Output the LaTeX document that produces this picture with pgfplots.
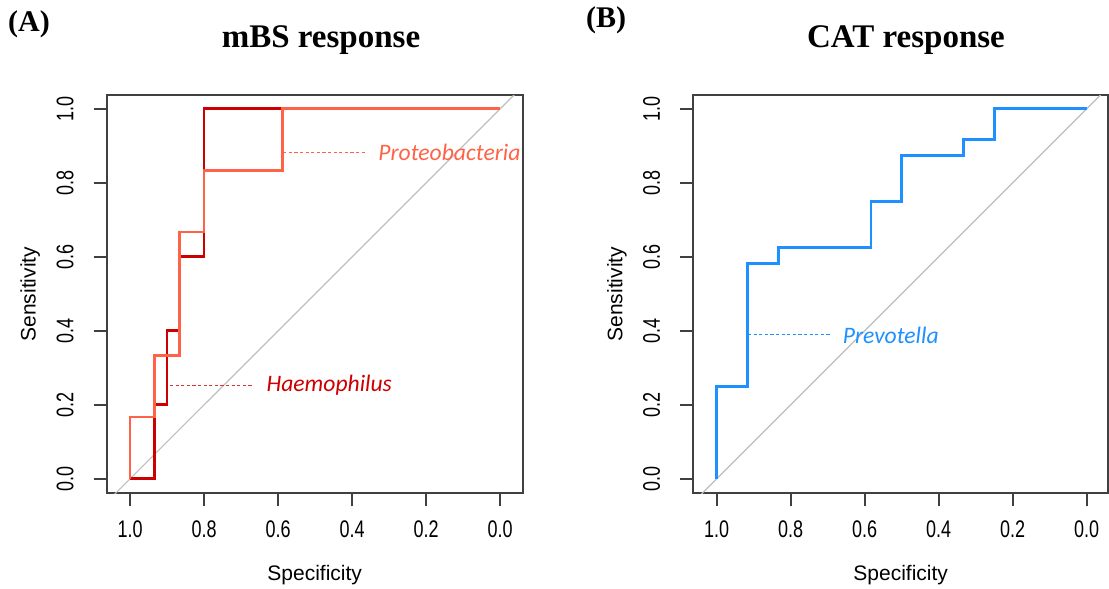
\documentclass[border=0pt]{standalone}
\usepackage{fontspec}
\setmainfont{Liberation Sans}
\newfontfamily\tickfont[FakeStretch=0.75]{Liberation Sans}
\newfontfamily\titlefont{Liberation Serif}
\newfontfamily\labfont{Carlito}
\usepackage{pgfplots}
\pgfplotsset{compat=1.18}

\definecolor{hamred}{RGB}{204,0,0}
\definecolor{proteo}{RGB}{255,99,71}
\definecolor{prevo}{RGB}{30,144,255}
\definecolor{boxgray}{RGB}{64,64,64}
\definecolor{diag}{RGB}{190,190,190}

\pgfplotsset{
  rocbox/.style={
    scale only axis, height=199.06pt,
    x dir=reverse, xmax=1.063, ymin=-0.039, ymax=1.037,
    xtick={0,0.2,0.4,0.6,0.8,1}, ytick={0,0.2,0.4,0.6,0.8,1},
    xtick pos=left, ytick pos=left,
    tick align=outside, major tick length=6.5pt,
    axis line style={boxgray, line width=1pt},
    every tick/.style={boxgray, line width=1pt},
    /pgf/number format/.cd, fixed, fixed zerofill, precision=1, assume math mode=true, /pgfplots/.cd,
    ticklabel style={font=\tickfont\fontsize{12}{14}\selectfont},
    xticklabel style={anchor=north, yshift=-3.5pt},
    yticklabel style={xshift=-6.5pt, rotate=90, anchor=south},
    label style={font=\fontsize{10.5}{12}\selectfont},
    xlabel={Specificity}, ylabel={Sensitivity},
    xlabel style={at={(axis description cs:0.5,-0.205)}, anchor=center},
    ylabel style={at={(axis description cs:-0.184,0.5)}, anchor=center},
    clip mode=individual,
  },
  roc/.style={line width=1.4pt, line join=miter},
  note/.style={line width=0.5pt, dash pattern=on 1.6pt off 1.2pt},
}
\tikzset{lab/.style={anchor=west, inner sep=0pt, font=\labfont\itshape\fontsize{11.8}{14}\selectfont}}

\begin{document}
\begin{tikzpicture}
\useasboundingbox (0,0) rectangle (554.5pt,294.5pt);

% (A) mBS response
\begin{axis}[rocbox, at={(53.35pt,47.85pt)}, anchor=south west,
    width=208pt, xmin=-0.061]
\addplot[diag, line width=0.6pt] coordinates {(1.2,-0.2) (-0.2,1.2)};
% Haemophilus
\addplot[roc, hamred] coordinates {
  (1,0) (0.933,0) (0.933,0.2) (0.9,0.2) (0.9,0.4) (0.867,0.4)
  (0.867,0.6) (0.8,0.6) (0.8,1) (0,1)};
% Proteobacteria
\addplot[roc, proteo] coordinates {
  (1,0) (1,0.167) (0.933,0.167) (0.933,0.333) (0.867,0.333) (0.867,0.667)
  (0.8,0.667) (0.8,0.833) (0.587,0.833) (0.587,1) (0,1)};
\addplot[note, proteo] coordinates {(0.586,0.882) (0.363,0.882)};
\addplot[note, hamred!80] coordinates {(0.892,0.252) (0.668,0.252)};
\node[lab, text=proteo] at (axis cs:0.330,0.882) {Proteobacteria};
\node[lab, text=hamred] at (axis cs:0.632,0.252) {Haemophilus};
\end{axis}

% (B) CAT response
\begin{axis}[rocbox, at={(346.65pt,47.85pt)}, anchor=south west,
    width=207.4pt, xmin=-0.058]
\addplot[diag, line width=0.6pt] coordinates {(1.2,-0.2) (-0.2,1.2)};
% Prevotella
\addplot[roc, prevo] coordinates {
  (1,0) (1,0.25) (0.917,0.25) (0.917,0.583) (0.833,0.583) (0.833,0.625)
  (0.583,0.625) (0.583,0.75) (0.5,0.75) (0.5,0.875) (0.333,0.875)
  (0.333,0.917) (0.25,0.917) (0.25,1) (0,1)};
\addplot[note, prevo] coordinates {(0.915,0.389) (0.694,0.389)};
\node[lab, text=prevo] at (axis cs:0.66,0.389) {Prevotella};
\end{axis}

% panel letters and titles
\node[font=\titlefont\bfseries\fontsize{15}{18}\selectfont] at (14.5pt,282.5pt) {(A)};
\node[font=\titlefont\bfseries\fontsize{16.5}{20}\selectfont] at (160.5pt,274.5pt) {mBS response};
\node[font=\titlefont\bfseries\fontsize{15}{18}\selectfont] at (303pt,284.5pt) {(B)};
\node[font=\titlefont\bfseries\fontsize{16.5}{20}\selectfont] at (453pt,274.5pt) {CAT response};
\end{tikzpicture}
\end{document}
